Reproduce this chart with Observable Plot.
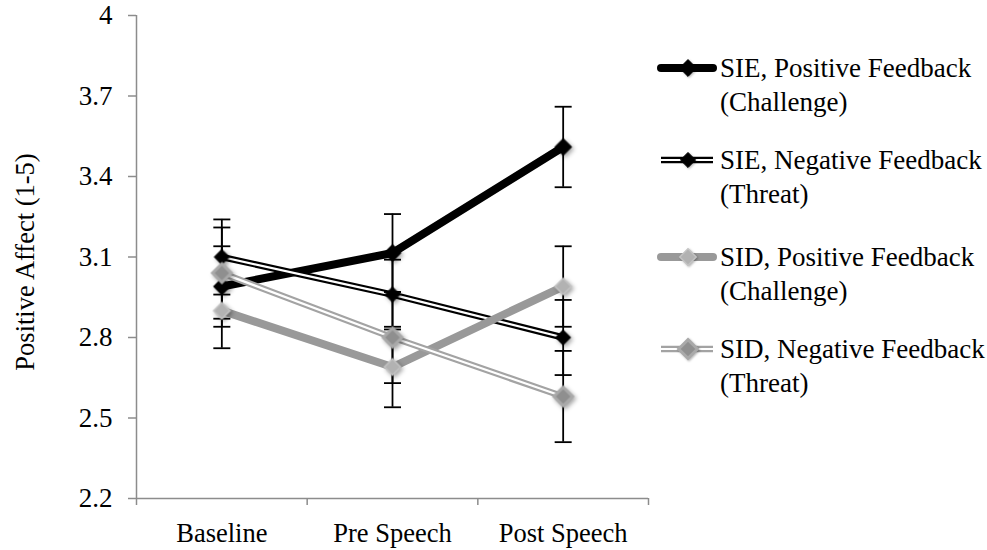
<!DOCTYPE html>
<html>
<head>
<meta charset="utf-8">
<script src="https://cdn.jsdelivr.net/npm/d3@7"></script>
<script src="https://cdn.jsdelivr.net/npm/@observablehq/plot@0.6"></script>
<style>
  html, body { margin: 0; padding: 0; background: #fff; }
  #wrap { position: relative; width: 987px; height: 550px; overflow: hidden; }
  #legend { position: absolute; left: 0; top: 0; font-family: "Liberation Serif", serif; font-size: 27px; color: #000; }
  .item { position: absolute; }
  .item svg { position: absolute; left: 0; }
  .item .txt { position: absolute; left: 65px; white-space: nowrap; line-height: 34px; }
</style>
</head>
<body>
<div id="wrap"><div id="legend"></div></div>
<script>
// ---- data ----
const categories = ["Baseline", "Pre Speech", "Post Speech"];
const seriesKeys = ["SIE_Pos", "SIE_Neg", "SID_Pos", "SID_Neg"];
const legendLine1 = ["SIE, Positive Feedback", "SIE, Negative Feedback", "SID, Positive Feedback", "SID, Negative Feedback"];
const legendLine2 = ["(Challenge)", "(Threat)", "(Challenge)", "(Threat)"];
const siePos = [2.99, 3.115, 3.51];
const sieNeg = [3.10, 2.96, 2.80];
const sidPos = [2.90, 2.69, 2.99];
const sidNeg = [3.04, 2.80, 2.58];
const siePosErr = [0.15, 0.145, 0.15];
const sieNegErr = [0.14, 0.13, 0.14];
const sidPosErr = [0.14, 0.15, 0.15];
const sidNegErr = [0.17, 0.17, 0.17];
const yTicks = [2.2, 2.5, 2.8, 3.1, 3.4, 3.7, 4];
const yTickLabels = ["2.2", "2.5", "2.8", "3.1", "3.4", "3.7", "4"];
const yLabel = "Positive Affect (1-5)";

// ---- build table ----
const values = [siePos, sieNeg, sidPos, sidNeg];
const errs = [siePosErr, sieNegErr, sidPosErr, sidNegErr];
const rows = [];
seriesKeys.forEach((s, si) => {
  categories.forEach((c, ci) => {
    rows.push({series: s, cat: c, xi: ci + 0.5, value: values[si][ci], lo: values[si][ci] - errs[si][ci], hi: values[si][ci] + errs[si][ci]});
  });
});

// ---- styles ----
const styles = {
  SIE_Pos: {outer: "#000", outerW: 8, inner: null, innerW: 0, mFill: "#000", mStroke: "#000", mStrokeW: 1, r: 7.6},
  SIE_Neg: {outer: "#000", outerW: 6.5, inner: "#fff", innerW: 2.2, mFill: "#000", mStroke: "#000", mStrokeW: 1, r: 6.8},
  SID_Pos: {outer: "#999999", outerW: 8, inner: null, innerW: 0, mFill: "#b2b2b2", mStroke: "#c4c4c4", mStrokeW: 1.5, r: 7.4},
  SID_Neg: {outer: "#a3a3a3", outerW: 6.5, inner: "#fff", innerW: 2.2, mFill: "#8f8f8f", mStroke: "#a9a9a9", mStrokeW: 3, r: 8.4}
};
const axisColor = "#8c8c8c";
const font = "Liberation Serif, serif";

const capSymbol = {
  draw(context, size) {
    const w = Math.sqrt(size);
    context.moveTo(-w / 2, 0);
    context.lineTo(w / 2, 0);
  }
};

const lineMarks = [];
const markerMarks = [];
seriesKeys.forEach(s => {
  const st = styles[s];
  const data = rows.filter(d => d.series === s);
  lineMarks.push(Plot.line(data, {x: "xi", y: "value", stroke: st.outer, strokeWidth: st.outerW, strokeLinejoin: "round", strokeLinecap: "butt"}));
  if (st.inner) lineMarks.push(Plot.line(data, {x: "xi", y: "value", stroke: st.inner, strokeWidth: st.innerW, strokeLinejoin: "round"}));
  markerMarks.push(Plot.dot(data, {x: "xi", y: "value", symbol: "diamond2", r: st.r, fill: st.mFill, stroke: st.mStroke, strokeWidth: st.mStrokeW}));
});

const chart = Plot.plot({
  width: 987,
  height: 550,
  marginLeft: 136,
  marginRight: 339,
  marginTop: 15,
  marginBottom: 52,
  style: {fontFamily: font, fontSize: "26px", color: "#000", background: "#fff", overflow: "visible"},
  x: {domain: [0, 3], axis: null},
  y: {domain: [2.2, 4], axis: null},
  marks: [
    Plot.axisY({ticks: yTicks, tickSize: 8, tickPadding: 16, tickFormat: (d, i) => yTickLabels[i], stroke: axisColor, strokeWidth: 1.5, fill: "#000", fontSize: 27, label: null}),
    Plot.axisX({ticks: [0, 1, 2, 3], tickSize: 7, tickFormat: () => "", stroke: axisColor, strokeWidth: 1.5, label: null}),
    Plot.axisX({ticks: [0.5, 1.5, 2.5], tickSize: 0, tickPadding: 25, tickFormat: d => categories[Math.round(d - 0.5)], fill: "#000", fontSize: 26.5, label: null}),
    Plot.ruleX([0], {stroke: axisColor, strokeWidth: 1.5}),
    Plot.ruleY([2.2], {stroke: axisColor, strokeWidth: 1.5}),
    Plot.text([yLabel], {frameAnchor: "left", textAnchor: "middle", lineAnchor: "middle", rotate: -90, dx: -111, dy: 5, fontSize: 26.5, fill: "#000"}),
    ...lineMarks,
    Plot.ruleX(rows, {x: "xi", y1: "lo", y2: "hi", stroke: "#000", strokeWidth: 1.8}),
    Plot.dot(rows, {x: "xi", y: "lo", symbol: capSymbol, r: 9.6, stroke: "#000", strokeWidth: 1.8, fill: "none"}),
    Plot.dot(rows, {x: "xi", y: "hi", symbol: capSymbol, r: 9.6, stroke: "#000", strokeWidth: 1.8, fill: "none"}),
    ...markerMarks
  ]
});
document.getElementById("wrap").prepend(chart);
// soft shadow under markers (Excel style)
chart.querySelectorAll('g[aria-label="dot"]').forEach((g, i, all) => {
  if (i >= all.length - 4) g.style.filter = "drop-shadow(2px 2px 2px rgba(0,0,0,0.35))";
});

// ---- legend ----
const legendY = [68, 160, 257, 349];
const legendX = 655;
const legend = document.getElementById("legend");
seriesKeys.forEach((s, i) => {
  const st = styles[s];
  const item = document.createElement("div");
  item.className = "item";
  item.style.left = legendX + "px";
  item.style.top = legendY[i] + "px";
  const ns = "http://www.w3.org/2000/svg";
  const svg = document.createElementNS(ns, "svg");
  svg.setAttribute("width", 64);
  svg.setAttribute("height", 24);
  svg.style.top = "-12px";
  svg.style.overflow = "visible";
  const mk = (tag, attrs) => { const e = document.createElementNS(ns, tag); for (const k in attrs) e.setAttribute(k, attrs[k]); svg.appendChild(e); return e; };
  mk("line", {x1: 6, x2: 58, y1: 12, y2: 12, stroke: st.outer, "stroke-width": st.outerW, "stroke-linecap": st.inner ? "butt" : "round"});
  if (st.inner) mk("line", {x1: 6, x2: 58, y1: 12, y2: 12, stroke: st.inner, "stroke-width": st.innerW});
  const h = st.r * 1.11;
  const p = mk("path", {d: `M33,${12 - h}L${33 + h},12L33,${12 + h}L${33 - h},12Z`, fill: st.mFill, stroke: st.mStroke, "stroke-width": st.mStrokeW});
  p.style.filter = "drop-shadow(1px 1px 1px rgba(0,0,0,0.3))";
  item.appendChild(svg);
  const txt = document.createElement("div");
  txt.className = "txt";
  txt.style.top = "-17px";
  txt.innerHTML = legendLine1[i] + "<br>" + legendLine2[i];
  item.appendChild(txt);
  legend.appendChild(item);
});
</script>
</body>
</html>
